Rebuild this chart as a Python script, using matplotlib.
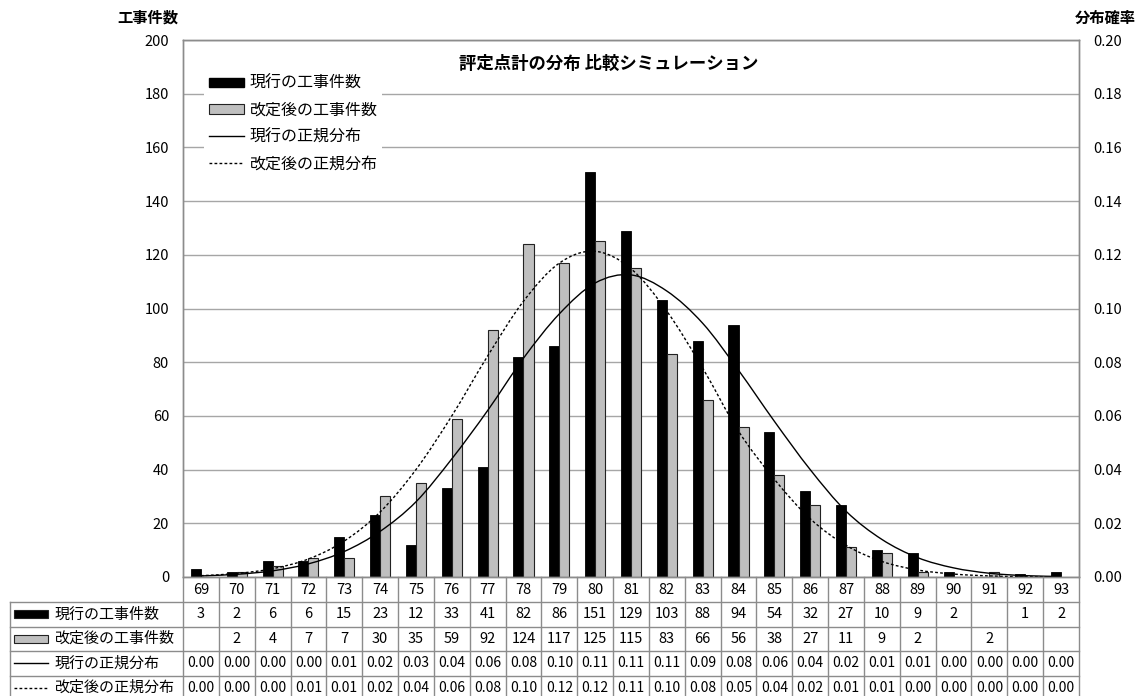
import numpy as np
import matplotlib
matplotlib.use("Agg")
import matplotlib.pyplot as plt
from matplotlib.path import Path
from matplotlib.patches import PathPatch, Rectangle
from matplotlib.lines import Line2D
from matplotlib.transforms import blended_transform_factory

plt.rcParams['font.family'] = ['Noto Sans CJK JP', 'DejaVu Sans']

# 評定点 (カテゴリ)
scores = list(range(69, 94))

# 工事件数 (None は空欄)
cur_counts = [3, 2, 6, 6, 15, 23, 12, 33, 41, 82, 86, 151, 129, 103, 88, 94,
              54, 32, 27, 10, 9, 2, None, 1, 2]
rev_counts = [None, 2, 4, 7, 7, 30, 35, 59, 92, 124, 117, 125, 115, 83, 66, 56,
              38, 27, 11, 9, 2, None, 2, None, None]

# 正規分布の確率
cur_norm = [0.0004, 0.0010, 0.0023, 0.0049, 0.0095, 0.0170, 0.0280, 0.0440,
            0.0620, 0.0815, 0.0980, 0.1095, 0.1125, 0.1065, 0.0945, 0.0770,
            0.0580, 0.0400, 0.0245, 0.0140, 0.0072, 0.0034, 0.0014, 0.0005,
            0.0002]
rev_norm = [0.0005, 0.0013, 0.0031, 0.0067, 0.0134, 0.0242, 0.0400, 0.0600,
            0.0823, 0.1027, 0.1169, 0.1213, 0.1148, 0.0990, 0.0778, 0.0543,
            0.0364, 0.0217, 0.0118, 0.0058, 0.0026, 0.0011, 0.0004, 0.0001,
            0.0000]

series_names = ['現行の工事件数', '改定後の工事件数', '現行の正規分布', '改定後の正規分布']

GRAY_BAR = '#bfbfbf'
GRID = '#a6a6a6'
FRAME = '#8c8c8c'
DASH = (0, (2.0, 1.6))


def smooth_path(xs, ys):
    # ベジェ曲線でなめらかに結ぶ (Excel の「スムージング」風)
    pts = np.column_stack([xs, ys]).astype(float)
    n = len(pts)
    verts = [pts[0]]
    codes = [Path.MOVETO]
    for i in range(n - 1):
        p0 = pts[i - 1] if i > 0 else pts[i]
        p1 = pts[i]
        p2 = pts[i + 1]
        p3 = pts[i + 2] if i + 2 < n else pts[i + 1]
        verts += [p1 + (p2 - p0) / 6, p2 - (p3 - p1) / 6, p2]
        codes += [Path.CURVE4] * 3
    return Path(verts, codes)


W, H = 1141, 696
L, R, T, B = 183, 1079, 40, 577

fig = plt.figure(figsize=(W / 100, H / 100), dpi=100)
ax = fig.add_axes([L / W, 1 - B / H, (R - L) / W, (B - T) / H])
ax2 = ax.twinx()

x = np.arange(len(scores))
bw = 0.28

xc = [i for i, v in enumerate(cur_counts) if v is not None]
xr = [i for i, v in enumerate(rev_counts) if v is not None]
ax.bar(np.array(xc) - bw / 2, [cur_counts[i] for i in xc], width=bw,
       color='black', edgecolor='black', linewidth=0.6, zorder=2)
ax.bar(np.array(xr) + bw / 2, [rev_counts[i] for i in xr], width=bw,
       color=GRAY_BAR, edgecolor='#222222', linewidth=0.8, zorder=2)

ax.set_xlim(-0.5, len(scores) - 0.5)
ax.set_ylim(0, 200)
ax.set_yticks(range(0, 201, 20))
ax.set_xticks([])
ax.grid(axis='y', color=GRID, linewidth=1.0)
ax.set_axisbelow(True)
ax.tick_params(axis='y', length=0, pad=10, labelsize=10.5)

ax2.set_ylim(0, 0.2)
ax2.set_yticks(np.arange(0, 0.201, 0.02))
ax2.set_yticklabels([f'{v:.2f}' for v in np.arange(0, 0.201, 0.02)])
ax2.tick_params(axis='y', length=0, pad=10, labelsize=10.5)

for a in (ax, ax2):
    for s in a.spines.values():
        s.set_color(FRAME)
        s.set_linewidth(1.0)

ax2.add_patch(PathPatch(smooth_path(x, cur_norm), fill=False,
                        edgecolor='black', linewidth=1.0))
ax2.add_patch(PathPatch(smooth_path(x, rev_norm), fill=False,
                        edgecolor='black', linewidth=1.0, linestyle=DASH))

# 凡例
handles = [
    Rectangle((0, 0), 1, 1, facecolor='black', edgecolor='black'),
    Rectangle((0, 0), 1, 1, facecolor=GRAY_BAR, edgecolor='#222222', linewidth=0.8),
    Line2D([], [], color='black', linewidth=1.0),
    Line2D([], [], color='black', linewidth=1.0, linestyle=DASH),
]
ax2.legend(handles, series_names, loc='upper left',
           bbox_to_anchor=(204 / W, 1 - 70 / H), bbox_transform=fig.transFigure,
           frameon=True, fancybox=False, facecolor='white', edgecolor='none',
           framealpha=1, fontsize=11.5, handlelength=2.2, handleheight=0.5,
           handletextpad=0.35, labelspacing=0.62, borderpad=0.3,
           borderaxespad=0)

fig.text(609 / W, 1 - 64 / H, '評定点計の分布 比較シミュレーション',
         ha='center', va='center', fontsize=12.5, fontweight='bold')
fig.text(148 / W, 1 - 18 / H, '工事件数', ha='center', va='center',
         fontsize=11, fontweight='bold')
fig.text(1105 / W, 1 - 18 / H, '分布確率', ha='center', va='center',
         fontsize=11, fontweight='bold')

# データテーブル (x はカテゴリ座標, y は図座標)
tr = blended_transform_factory(ax.transData, fig.transFigure)
unit = (R - L) / len(scores)
x_lab = -0.5 - (L - 10) / unit
x_right = len(scores) - 0.5
rows_px = [B, 602, 626.5, 651, 675.5, 700]


def fy(py):
    return 1 - py / H


line_kw = dict(color=FRAME, linewidth=1.0, transform=tr, clip_on=False)

for py in rows_px[1:5]:
    fig.add_artist(Line2D([x_lab, x_right], [fy(py), fy(py)], **line_kw))
fig.add_artist(Line2D([x_lab, x_lab], [fy(rows_px[1]), fy(rows_px[-1])], **line_kw))
for i in range(len(scores) + 1):
    xv = i - 0.5
    fig.add_artist(Line2D([xv, xv], [fy(B), fy(rows_px[-1])], **line_kw))

row_mid = [(rows_px[k] + rows_px[k + 1]) / 2 for k in range(5)]

for i, s in enumerate(scores):
    fig.text(i, fy(row_mid[0]), str(s), transform=tr, ha='center', va='center', fontsize=10.5)
    if cur_counts[i] is not None:
        fig.text(i, fy(row_mid[1]), str(cur_counts[i]), transform=tr,
                 ha='center', va='center', fontsize=10.5)
    if rev_counts[i] is not None:
        fig.text(i, fy(row_mid[2]), str(rev_counts[i]), transform=tr,
                 ha='center', va='center', fontsize=10.5)
    fig.text(i, fy(row_mid[3]), f'{cur_norm[i]:.2f}', transform=tr,
             ha='center', va='center', fontsize=10)
    fig.text(i, fy(row_mid[4]), f'{rev_norm[i]:.2f}', transform=tr,
             ha='center', va='center', fontsize=10)

# 行見出しと凡例記号 (図のピクセル座標)
pix = lambda px, py: (px / W, 1 - py / H)
key_x0, key_x1 = 14, 48
for k, name in enumerate(series_names):
    ym = row_mid[k + 1]
    if k < 2:
        fc = 'black' if k == 0 else GRAY_BAR
        fig.add_artist(Rectangle(pix(key_x0, ym + 4), (key_x1 - key_x0) / W, 8 / H,
                                 facecolor=fc, edgecolor='#222222', linewidth=0.8,
                                 transform=fig.transFigure))
    else:
        ls = '-' if k == 2 else DASH
        fig.add_artist(Line2D([key_x0 / W, key_x1 / W], [fy(ym), fy(ym)],
                              color='black', linewidth=1.0, linestyle=ls,
                              transform=fig.transFigure))
    fig.text(55 / W, fy(ym), name, ha='left', va='center', fontsize=10.8)

fig.savefig('out.png', dpi=100)
